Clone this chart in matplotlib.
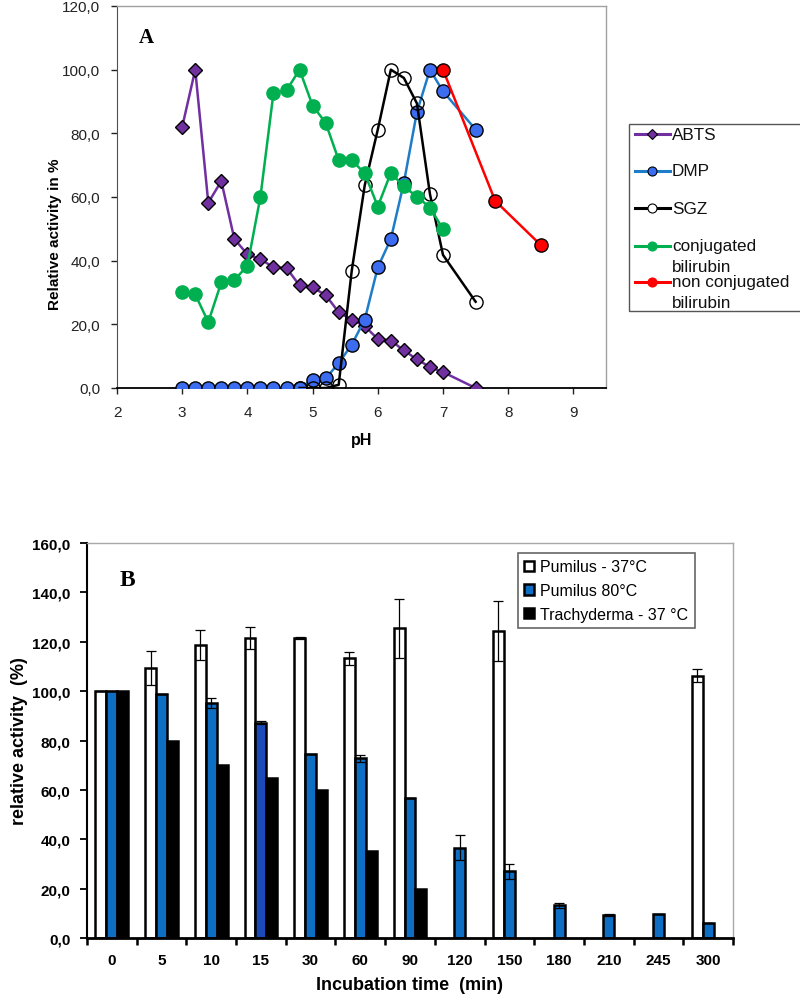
import numpy as np
import matplotlib
matplotlib.use("Agg")
import matplotlib.pyplot as plt
from matplotlib.lines import Line2D
from matplotlib.patches import Rectangle, Patch
from matplotlib.ticker import FuncFormatter

# ---------------- data: panel A ----------------
ph_abts = [3.0, 3.2, 3.4, 3.6, 3.8, 4.0, 4.2, 4.4, 4.6, 4.8, 5.0, 5.2, 5.4, 5.6, 5.8,
           6.0, 6.2, 6.4, 6.6, 6.8, 7.0, 7.5]
abts = [82.0, 100.0, 58.2, 65.0, 46.8, 42.0, 40.5, 37.9, 37.7, 32.2, 31.6, 29.2, 23.8,
        21.5, 19.4, 15.4, 14.9, 11.8, 9.0, 6.6, 5.0, 0.0]
ph_dmp = [3.0, 3.2, 3.4, 3.6, 3.8, 4.0, 4.2, 4.4, 4.6, 4.8, 5.0, 5.2, 5.4, 5.6, 5.8,
          6.0, 6.2, 6.4, 6.6, 6.8, 7.0, 7.5]
dmp = [0, 0, 0, 0, 0, 0, 0, 0, 0, 0, 2.6, 3.0, 7.8, 13.6, 21.5, 37.9, 46.8, 64.5,
       86.7, 100.0, 93.2, 81.2]
ph_sgz = [4.8, 5.0, 5.2, 5.4, 5.6, 5.8, 6.0, 6.2, 6.4, 6.6, 6.8, 7.0, 7.5]
sgz = [0, 0, 0, 1.0, 36.8, 63.7, 81.2, 100.0, 97.4, 89.4, 60.9, 41.8, 27.1]
ph_conj = [3.0, 3.2, 3.4, 3.6, 3.8, 4.0, 4.2, 4.4, 4.6, 4.8, 5.0, 5.2, 5.4, 5.6, 5.8,
           6.0, 6.2, 6.4, 6.6, 6.8, 7.0]
conj = [30.1, 29.4, 20.7, 33.2, 33.9, 38.4, 60.1, 92.7, 93.5, 100.0, 88.7, 83.3, 71.6,
        71.6, 67.4, 57.0, 67.6, 63.3, 60.1, 56.7, 49.9]
ph_nonconj = [7.0, 7.8, 8.5]
nonconj = [100.0, 58.8, 44.9]

# ---------------- data: panel B ----------------
times = ['0', '5', '10', '15', '30', '60', '90', '120', '150', '180', '210', '245', '300']
nan = np.nan
pum37 = [100.0, 109.3, 118.7, 121.6, 121.6, 113.3, 125.5, nan, 124.4, nan, nan, nan, 106.2]
pum37_err = [0, 7.0, 6.0, 4.5, 0.5, 2.7, 12.0, nan, 12.0, nan, nan, nan, 2.7]
pum80 = [100.0, 98.9, 95.1, 87.2, 74.7, 72.8, 56.6, 36.6, 27.1, 13.2, 9.3, 9.8, 6.2]
pum80_err = [0, 0, 2.0, 0.5, 0, 1.5, 0, 5.0, 3.0, 1.0, 0.5, 0, 0]
trach = [100.0, 80.0, 70.0, 65.0, 60.0, 35.3, 20.0, nan, nan, nan, nan, nan, nan]

W, H = 800, 1003
fig = plt.figure(figsize=(W / 100, H / 100), dpi=100)
plt.rcParams['font.family'] = ['Liberation Sans', 'DejaVu Sans']


def fx(x):
    return x / W


def fy(y):
    return 1 - y / H


comma = FuncFormatter(lambda v, p: f"{v:.1f}".replace('.', ','))

# ================= Panel A =================
axA = fig.add_axes([fx(117), fy(389), (606 - 117) / W, (389 - 7) / H])
axA.set_xlim(2, 9.5)
axA.set_ylim(0, 120)
axA.set_xticks(range(2, 10))
axA.set_yticks(range(0, 121, 20))
axA.yaxis.set_major_formatter(comma)
axA.tick_params(axis='both', labelsize=11, direction='out', length=4, width=1,
                colors='#222222')
axA.tick_params(axis='x', pad=8)
axA.tick_params(axis='y', pad=8)
for s in ['top', 'right']:
    axA.spines[s].set_color('#a0a0a0')
    axA.spines[s].set_linewidth(1)
axA.spines['left'].set_color('#505050')
axA.spines['bottom'].set_color('black')
axA.spines['bottom'].set_linewidth(1.3)

c_abts = '#7030a0'
c_dmp_line = '#1f7cc8'
c_dmp_face = '#3c6df0'
c_conj = '#00b050'
c_red = '#ff0000'

axA.plot(ph_abts, abts, color=c_abts, lw=1.8, marker='D', ms=7.5, mfc=c_abts,
         mec='black', mew=1.0, zorder=3)
axA.plot(ph_dmp, dmp, color=c_dmp_line, lw=1.8, marker='o', ms=9.5, mfc=c_dmp_face,
         mec='black', mew=1.0, zorder=4)
axA.plot(ph_sgz, sgz, color='black', lw=1.8, marker='o', ms=9.5, mfc='none',
         mec='black', mew=1.0, zorder=5)
axA.plot(ph_conj, conj, color=c_conj, lw=1.8, marker='o', ms=9.5, mfc=c_conj,
         mec=c_conj, mew=1.0, zorder=6)
axA.plot(ph_nonconj, nonconj, color=c_red, lw=1.8, marker='o', ms=9.5, mfc=c_red,
         mec='black', mew=1.0, zorder=7)

fig.text(fx(362), fy(441), 'pH', ha='center', va='center', fontsize=11.5,
         fontweight='bold')
fig.text(fx(55), fy(234), 'Relative activity in %', ha='center', va='center',
         rotation=90, fontsize=11, fontweight='bold')
fig.text(fx(146), fy(38), 'A', ha='center', va='center', fontsize=15,
         fontweight='bold', family='Liberation Serif')

# manual legend for panel A
fig.add_artist(Rectangle((fx(629), fy(312)), (820 - 629) / W, (312 - 125) / H,
                         transform=fig.transFigure, fill=False, edgecolor='#555555',
                         lw=1.0, clip_on=False))
leg_items = [
    (135, ['ABTS'], c_abts, 'D', c_abts, 'black', 5.5),
    (172, ['DMP'], c_dmp_line, 'o', c_dmp_face, 'black', 6.5),
    (209, ['SGZ'], 'black', 'o', 'white', 'black', 6.5),
    (247, ['conjugated', 'bilirubin'], c_conj, 'o', c_conj, c_conj, 6.5),
    (283, ['non conjugated', 'bilirubin'], c_red, 'o', c_red, c_red, 6.5),
]
for y, lines, lc, mk, mf, me, ms in leg_items:
    fig.add_artist(Line2D([fx(635), fx(670)], [fy(y), fy(y)], transform=fig.transFigure,
                          color=lc, lw=2.2))
    fig.add_artist(Line2D([fx(652)], [fy(y)], transform=fig.transFigure, marker=mk,
                          ms=ms, mfc=mf, mec=me, mew=0.8, lw=0))
    for i, t in enumerate(lines):
        fig.text(fx(672), fy(y + 21 * i), t, ha='left', va='center', fontsize=12.3,
                 color='#111111')

# ================= Panel B =================
axB = fig.add_axes([fx(87), fy(939), (733 - 87) / W, (939 - 544) / H])
n = len(times)
x = np.arange(n)
bw = 0.22
blue = '#0d6ec4'
blue_colors = [blue] * n
blue_colors[3] = '#1a4bb8'

axB.bar(x - bw, pum37, bw, color='white', edgecolor='black', lw=1.8, zorder=2,
        label='Pumilus - 37°C')
axB.errorbar(x - bw, pum37, yerr=pum37_err, fmt='none', ecolor='black', elinewidth=0.9,
             capsize=3.5, capthick=0.9, zorder=3)
axB.bar(x, pum80, bw, color=blue_colors, edgecolor='black', lw=1.8, zorder=2,
        label='Pumilus 80°C')
axB.errorbar(x, pum80, yerr=pum80_err, fmt='none', ecolor='black', elinewidth=0.9,
             capsize=3.5, capthick=0.9, zorder=3)
axB.bar(x + bw, trach, bw, color='black', edgecolor='black', lw=1.8, zorder=2,
        label='Trachyderma - 37 °C')

axB.set_xlim(-0.5, n - 0.5)
axB.set_ylim(0, 160)
axB.set_yticks(range(0, 161, 20))
axB.yaxis.set_major_formatter(comma)
axB.set_xticks(np.arange(-0.5, n, 1.0))
axB.set_xticklabels([''] * (n + 1))
axB.set_xticks(x, minor=True)
axB.set_xticklabels(times, minor=True, fontsize=11, fontweight='bold')
axB.tick_params(axis='x', which='major', direction='out', length=5, width=1.8)
axB.tick_params(axis='x', which='minor', length=0, pad=11)
axB.tick_params(axis='y', direction='out', length=5, width=1.3, labelsize=11, pad=7)
for lab in axB.get_yticklabels():
    lab.set_fontweight('bold')
for s in ['top', 'right']:
    axB.spines[s].set_color('#a8a8a8')
    axB.spines[s].set_linewidth(1)
axB.spines['left'].set_color('black')
axB.spines['left'].set_linewidth(1.5)
axB.spines['bottom'].set_color('black')
axB.spines['bottom'].set_linewidth(2)

fig.text(fx(410), fy(985), 'Incubation time  (min)', ha='center', va='center',
         fontsize=13, fontweight='bold')
fig.text(fx(20), fy(741), 'relative activity  (%)', ha='center', va='center',
         rotation=90, fontsize=13, fontweight='bold')
fig.text(fx(127), fy(581), 'B', ha='center', va='center', fontsize=17,
         fontweight='bold', family='Liberation Serif')

handles = [Patch(facecolor='white', edgecolor='black', lw=1.8),
           Patch(facecolor=blue, edgecolor='black', lw=1.8),
           Patch(facecolor='black', edgecolor='black', lw=1.8)]
labels = ['Pumilus - 37°C', 'Pumilus 80°C', 'Trachyderma - 37 °C']
leg = axB.legend(handles, labels, loc='upper left',
                 bbox_to_anchor=(fx(518), fy(554)), bbox_transform=fig.transFigure,
                 borderaxespad=0, fancybox=False, fontsize=11.5, handlelength=0.6,
                 handleheight=0.6, handletextpad=0.4, labelspacing=0.55, borderpad=0.4,
                 frameon=True)
leg.get_frame().set_edgecolor('#404040')
leg.get_frame().set_linewidth(1.2)

fig.savefig('out.png', dpi=100)
